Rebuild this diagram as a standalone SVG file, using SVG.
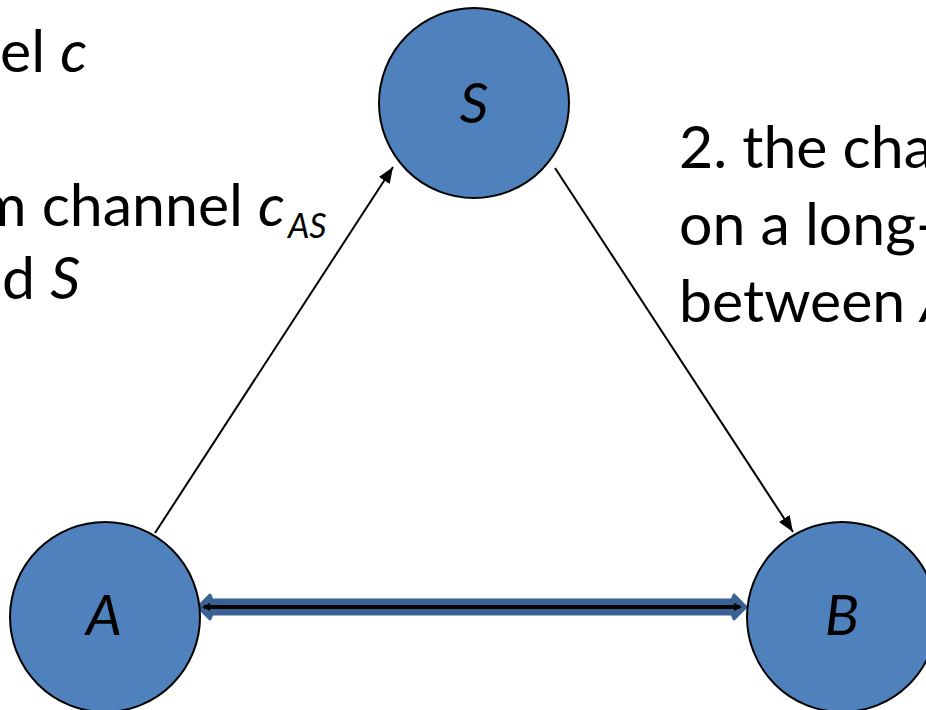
<svg xmlns="http://www.w3.org/2000/svg" width="926" height="710" viewBox="0 0 926 710">
<defs>
<style>
.node{fill:#4F81BD;stroke:#000;stroke-width:2}
.lbl{font-family:Lato,"Open Sans",sans-serif;font-style:italic;font-size:57px;fill:#000;text-anchor:middle}
.txt{font-family:Lato,"Open Sans",sans-serif;font-size:59px;fill:#000}
.conn{stroke:#000;stroke-width:2;fill:none}
</style>
<marker id="ah" viewBox="0 0 10 10" refX="10" refY="5" markerWidth="8" markerHeight="8" orient="auto" markerUnits="strokeWidth">
<path d="M0,1 L10,5 L0,9 Z" fill="#000"/>
</marker>
</defs>
<rect width="926" height="710" fill="#fff"/>
<g id="texts">
<text class="txt" x="0" y="72">el <tspan font-style="italic">c</tspan></text>
<text class="txt" x="-22" y="226">m channel <tspan font-style="italic">c</tspan><tspan font-style="italic" font-size="34" dx="3" dy="12">AS</tspan></text>
<text class="txt" x="2" y="299">d <tspan font-style="italic">S</tspan></text>
<text class="txt" x="679" y="168">2. the cha</text>
<text class="txt" x="679" y="245">on a long-</text>
<text class="txt" x="679" y="322">between <tspan font-style="italic">A</tspan></text>
</g>
<g id="connectors">
<line class="conn" x1="155" y1="533" x2="393" y2="167" marker-end="url(#ah)"/>
<line class="conn" x1="555" y1="168" x2="793" y2="532" marker-end="url(#ah)"/>
<polygon points="198,607 210,595 212,600 732,600 734,595 746,607 734,619 732,614 212,614 210,619" fill="#3A6294" stroke="#3A6294" stroke-width="3" stroke-linejoin="round"/>
<line x1="204" y1="607" x2="740" y2="607" stroke="#000" stroke-width="4"/>
<path d="M202,607 L210,603 L210,611 Z M742,607 L734,603 L734,611 Z" fill="#000"/>
</g>
<g id="node-S">
<circle class="node" cx="474" cy="103" r="95"/>
<text class="lbl" x="474" y="123">S</text>
</g>
<g id="node-A">
<circle class="node" cx="105" cy="617" r="95"/>
<text class="lbl" x="104" y="635">A</text>
</g>
<g id="node-B">
<circle class="node" cx="842" cy="617" r="95"/>
<text class="lbl" x="842" y="635">B</text>
</g>
</svg>
